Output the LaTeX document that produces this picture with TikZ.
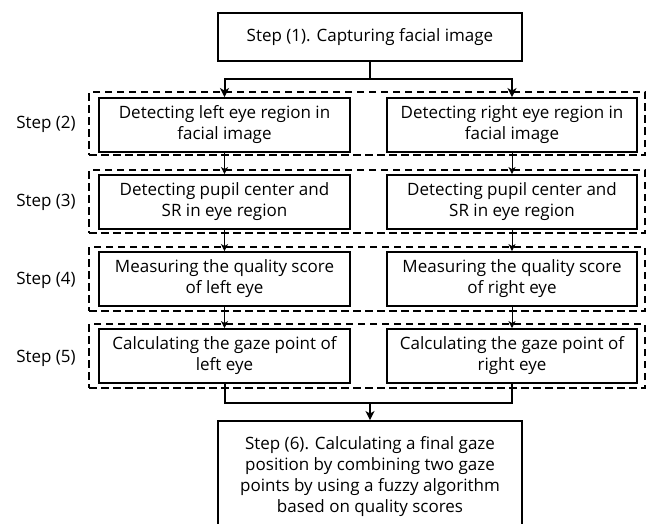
\documentclass[tikz,border=0pt]{standalone}
\usepackage{fontspec}
\setmainfont{Open Sans}
\usetikzlibrary{arrows.meta}
\begin{document}
\begin{tikzpicture}[x=1pt,y=-1pt,
  txt/.style={font=\fontsize{17}{21}\selectfont},
  box/.style={txt, draw, line width=1.9pt, align=center, inner sep=0pt},
  stepbox/.style={box, minimum height=54pt},
  grp/.style={draw, line width=1.8pt, dash pattern=on 7.5pt off 4.5pt, minimum width=556pt, minimum height=63pt, inner sep=0pt},
  lbl/.style={txt, inner sep=0pt},
  bigline/.style={line width=2pt},
  bigarrow/.style={bigline, -{Stealth[length=9pt,width=9pt,inset=2.5pt]}},
  thinarrow/.style={line width=1pt, -{Stealth[length=7pt,width=7pt,inset=2pt]}}]
  \useasboundingbox (0,0) rectangle (647,524);
  \fill[white] (0,0) rectangle (647,524);
  \clip (0,0) rectangle (647,524);

  % capture stage
  \node[box, minimum width=304pt, minimum height=48pt] (cap) at (370,37) {Step (1). Capturing facial image};

  % dashed frames grouping each step
  \node[grp] (g2) at (367,123.5) {};
  \node[grp] (g3) at (367,201.5) {};
  \node[grp, minimum height=64pt] (g4) at (367,279) {};
  \node[grp, minimum height=64pt] (g5) at (367,356) {};

  % step labels
  \node[lbl] (s2) at (46,124) {Step (2)};
  \node[lbl] (s3) at (46,202) {Step (3)};
  \node[lbl] (s4) at (46,280) {Step (4)};
  \node[lbl] (s5) at (46,358) {Step (5)};

  % left eye column
  \node[stepbox, minimum width=251pt] (l2) at (224.5,125) {Detecting left eye region in\\facial image};
  \node[stepbox, minimum width=251pt] (l3) at (224.5,202) {Detecting pupil center and\\SR in eye region};
  \node[stepbox, minimum width=251pt] (l4) at (224.5,279) {Measuring the quality score\\of left eye};
  \node[stepbox, minimum width=251pt] (l5) at (224.5,356) {Calculating the gaze point of\\left eye};

  % right eye column
  \node[stepbox, minimum width=250pt] (r2) at (512,125) {Detecting right eye region in\\facial image};
  \node[stepbox, minimum width=250pt] (r3) at (512,202) {Detecting pupil center and\\SR in eye region};
  \node[stepbox, minimum width=250pt] (r4) at (512,279) {Measuring the quality score\\of right eye};
  \node[stepbox, minimum width=250pt] (r5) at (512,356) {Calculating the gaze point of\\right eye};

  % fusion stage
  \node[box, minimum width=304pt, minimum height=111pt] (fin) at (370,476.5)
    {Step (6). Calculating a final gaze\\position by combining two gaze\\points by using a fuzzy algorithm\\based on quality scores};

  % split after capture
  \coordinate (split) at (cap.south |- 0,79);
  \draw[bigline] (cap.south) -- (split);
  \draw[bigarrow] (split) -| (l2.north);
  \draw[bigarrow] (split) -| (r2.north);

  % flow down each column
  \draw[thinarrow] (l2.south) -- (l3.north);
  \draw[thinarrow] (l3.south) -- (l4.north);
  \draw[thinarrow] (l4.south) -- (l5.north);
  \draw[thinarrow] (r2.south) -- (r3.north);
  \draw[thinarrow] (r3.south) -- (r4.north);
  \draw[thinarrow] (r4.south) -- (r5.north);

  % merge into the final step
  \coordinate (merge) at (fin.north |- 0,403);
  \draw[bigline] (l5.south) |- (merge);
  \draw[bigline] (r5.south) |- (merge);
  \draw[bigarrow] (merge) -- (fin.north);
\end{tikzpicture}
\end{document}
